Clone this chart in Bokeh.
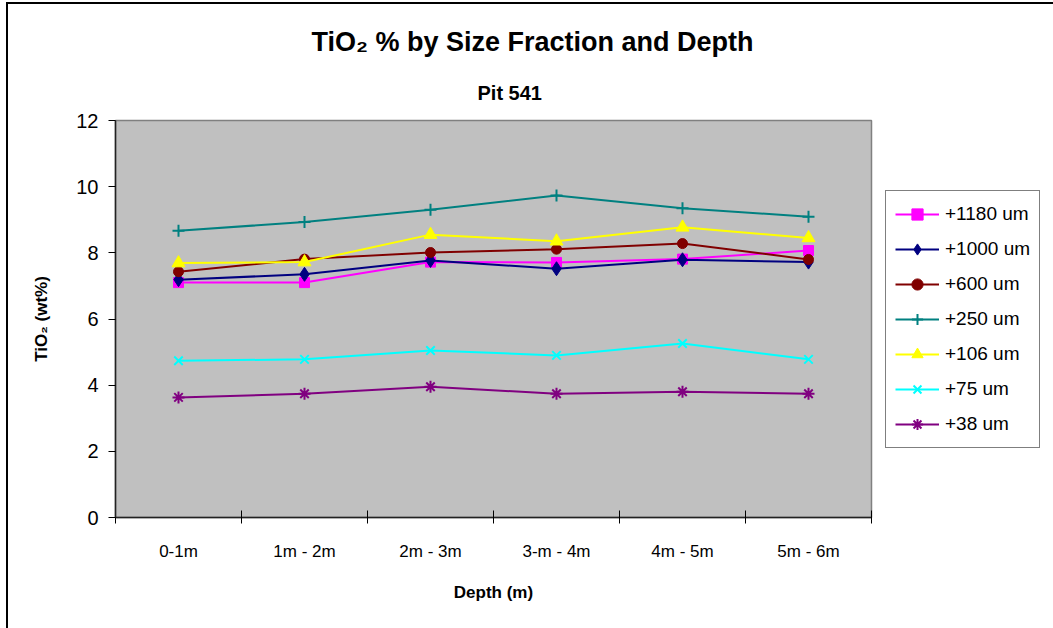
from bokeh.plotting import figure
from bokeh.models import Range1d, FixedTicker, Legend, Title
from bokeh.embed import file_html
from bokeh.resources import INLINE

categories = ["0-1m", "1m - 2m", "2m - 3m", "3-m - 4m", "4m - 5m", "5m - 6m"]
s1180 = [7.10, 7.10, 7.72, 7.71, 7.81, 8.07]
s1000 = [7.19, 7.35, 7.77, 7.52, 7.79, 7.72]
s600 = [7.43, 7.81, 8.01, 8.11, 8.28, 7.80]
s250 = [8.67, 8.93, 9.30, 9.73, 9.35, 9.09]
s106 = [7.69, 7.72, 8.55, 8.35, 8.77, 8.45]
s75 = [4.74, 4.78, 5.05, 4.90, 5.26, 4.78]
s38 = [3.63, 3.74, 3.95, 3.74, 3.80, 3.74]
y_ticks = [0, 2, 4, 6, 8, 10, 12]

FONT = "Liberation Sans"
OX, OY = 8, 4          # canvas offset created by the css border
FL, FR, FT, FB = 115, 871, 120, 517   # target frame in page pixels

p = figure(frame_width=FR - FL, frame_height=FB - FT,
           output_backend="svg", toolbar_location=None,
           x_range=Range1d(0, len(categories)), y_range=Range1d(0, 12))
p.styles = {"margin-left": "6px", "margin-top": "2px",
            "border-left": "2px solid black", "border-top": "2px solid black"}
p.min_border_left = FL - OX
p.min_border_right = 0
p.min_border_top = FT - OY
p.min_border_bottom = 628 - FB
p.background_fill_color = "#C0C0C0"
p.border_fill_color = "white"
p.outline_line_color = "#808080"
p.outline_line_width = 1.5
p.xgrid.visible = False
p.ygrid.visible = False

xs = [i + 0.5 for i in range(len(categories))]

xa = p.xaxis[0]
xa.ticker = FixedTicker(ticks=xs, minor_ticks=list(range(len(categories) + 1)))
xa.major_label_overrides = {x: c for x, c in zip(xs, categories)}
xa.major_tick_in = 0
xa.major_tick_out = 0
xa.minor_tick_in = 7
xa.minor_tick_out = 6
xa.minor_tick_line_color = "black"
xa.axis_line_color = "#222222"
xa.axis_line_width = 1.5
xa.major_label_text_font = FONT
xa.major_label_text_font_size = "17px"
xa.major_label_text_color = "black"
xa.major_label_standoff = 18
xa.axis_label = "Depth (m)"
xa.axis_label_text_font = FONT
xa.axis_label_text_font_size = "17px"
xa.axis_label_text_font_style = "bold"
xa.axis_label_text_color = "black"
xa.axis_label_standoff = 19

ya = p.yaxis[0]
ya.ticker = FixedTicker(ticks=y_ticks, minor_ticks=[])
ya.major_tick_in = 0
ya.major_tick_out = 7
ya.major_tick_line_color = "black"
ya.axis_line_color = "#222222"
ya.axis_line_width = 1.5
ya.major_label_text_font = FONT
ya.major_label_text_font_size = "20px"
ya.major_label_text_color = "black"
ya.major_label_standoff = 10
ya.axis_label = "TiO\u2082 (wt%)"
ya.axis_label_text_font = FONT
ya.axis_label_text_font_size = "17px"
ya.axis_label_text_font_style = "bold"
ya.axis_label_text_color = "black"
ya.axis_label_standoff = 22

series = [
    ("+1180 um", s1180, "#FF00FF", "square", 10),
    ("+1000 um", s1000, "#000080", "diamond", 14),
    ("+600 um", s600, "#800000", "circle", 10),
    ("+250 um", s250, "#008080", "cross", 12),
    ("+106 um", s106, "#FFFF00", "triangle", 13),
    ("+75 um", s75, "#00FFFF", "x", 12),
    ("+38 um", s38, "#800080", "asterisk", 12),
]

items = []
for name, vals, col, mk, sz in series:
    ln = p.line(xs, vals, line_color=col, line_width=2)
    if mk in ("cross", "x", "asterisk"):
        sc = p.scatter(xs, vals, marker=mk, size=sz, line_color=col, line_width=2)
    else:
        sc = p.scatter(xs, vals, marker=mk, size=sz, fill_color=col, line_color=col)
    items.append((name, [ln, sc]))

legend = Legend(items=items, location="center_left")
legend.label_text_font = FONT
legend.label_text_font_size = "19px"
legend.label_text_color = "black"
legend.glyph_width = 44
legend.glyph_height = 28
legend.label_height = 28
legend.spacing = 7
legend.padding = 9
legend.margin = 14
legend.label_standoff = 6
legend.border_line_color = "black"
legend.border_line_width = 1
legend.background_fill_color = "white"
legend.background_fill_alpha = 1
p.add_layout(legend, "right")

sub = Title(text="Pit 541", align="left", offset=477 - FL,
            text_font=FONT, text_font_size="20px", text_font_style="bold",
            text_color="black")
main = Title(text="TiO\u2082 %  by Size Fraction and Depth", align="left",
             offset=311 - FL, text_font=FONT, text_font_size="27px",
             text_font_style="bold", text_color="black")
if "standoff" in Title.properties():
    sub.standoff = 34
    main.standoff = 12
    p.add_layout(sub, "above")
    p.add_layout(main, "above")
else:
    p.add_layout(Title(text=" ", text_font=FONT, text_font_size="3px"), "above")
    p.add_layout(sub, "above")
    p.add_layout(Title(text=" ", text_font=FONT, text_font_size="2px"), "above")
    p.add_layout(main, "above")

open("out.html", "w").write(file_html(p, INLINE))
